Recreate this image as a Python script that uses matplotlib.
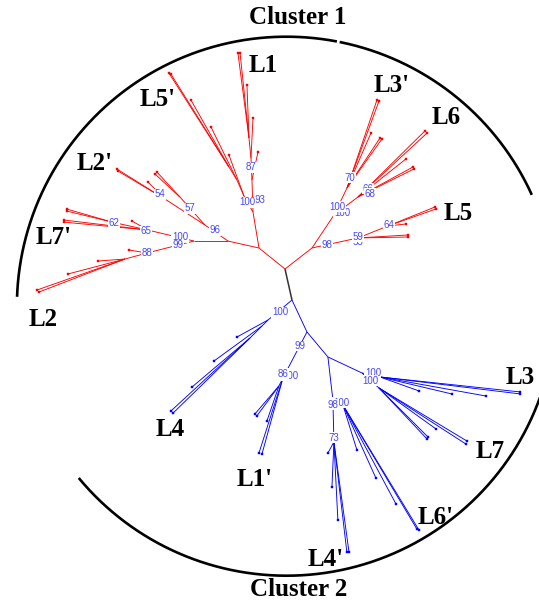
import numpy as np
import matplotlib
matplotlib.use("Agg")
import matplotlib.pyplot as plt
from matplotlib.collections import LineCollection

# Unrooted radiation tree: (node, parent, branch length, direction in degrees)
red_edges = [
    ("A", "root", 33.4, 141.1),
    ("N1", "A", 36.5, 99.5),
    ("L1n", "N1", 32.0, 91.8),
    ("L1_5", "L1n", 28.6, 77.9),
    ("L1m", "L1n", 22.0, 92.6),
    ("L1_4", "L1m", 40.0, 87.1),
    ("L1k", "L1m", 20.1, 95.7),
    ("L1_3", "L1k", 53.0, 92.2),
    ("L1_1", "L1k", 85.7, 97.4),
    ("L1_2", "L1k", 85.5, 96.0),
    ("L5n", "N1", 18.4, 119.4),
    ("L5p_4", "L5n", 43.7, 110.1),
    ("L5m", "L5n", 17.5, 113.6),
    ("L5p_3", "L5m", 59.0, 116.1),
    ("L5k", "L5m", 15.3, 121.6),
    ("L5p_2", "L5k", 77.0, 119.6),
    ("L5p_1", "L5k", 111.5, 122.6),
    ("L5p_0", "L5k", 109.6, 122.0),
    ("C96", "A", 31.8, 167.3),
    ("P2", "C96", 28.0, 145.2),
    ("n57", "P2", 37.5, 131.8),
    ("L2p_1", "n57", 34.0, 132.6),
    ("L2p_2", "n57", 34.0, 137.4),
    ("n54", "P2", 47.7, 147.0),
    ("L2p_3", "n54", 56.6, 148.0),
    ("L2p_4", "n54", 54.7, 149.2),
    ("L2p_5", "n54", 24.0, 135.0),
    ("C100", "C96", 34.0, 180.0),
    ("n65", "C100", 47.3, 166.6),
    ("L7p_5", "n65", 18.4, 150.6),
    ("n62", "n65", 36.9, 167.5),
    ("L7p_1", "n62", 46.8, 163.9),
    ("L7p_2", "n62", 46.3, 166.3),
    ("L7p_3", "n65", 84.6, 173.2),
    ("L7p_4", "n65", 84.4, 174.6),
    ("n88", "C100", 48.5, 194.3),
    ("L2_5", "n88", 18.2, 170.5),
    ("n88b", "n88", 22.8, 195.3),
    ("L2_4", "n88b", 27.1, 184.2),
    ("L2_3", "n88b", 58.9, 194.7),
    ("L2_1", "n88b", 93.3, 199.4),
    ("L2_2", "n88b", 92.1, 201.0),
    ("Ap", "root", 34.2, 37.9),
    ("n59", "Ap", 47.1, 12.3),
    ("L5_a", "n59", 50.1, 3.4),
    ("L5_b", "n59", 50.0, 1.1),
    ("n64", "n59", 32.3, 21.8),
    ("L5_c", "n64", 50.7, 22.0),
    ("L5_d", "n64", 50.9, 19.5),
    ("L5_e", "n64", 18.1, 6.3),
    ("n100r", "Ap", 39.7, 56.3),
    ("n70", "n100r", 30.0, 64.3),
    ("L3p_1", "n70", 93.0, 71.2),
    ("L3p_2", "n70", 92.7, 69.8),
    ("L3p_3", "n70", 60.0, 66.4),
    ("L3p_4", "n70", 59.9, 56.6),
    ("L3p_5", "n70", 60.2, 54.5),
    ("n68", "n100r", 30.0, 36.9),
    ("L6_1", "n68", 94.0, 44.6),
    ("L6_2", "n68", 94.1, 42.8),
    ("L6_3", "n68", 61.2, 38.4),
    ("L6_4", "n68", 62.6, 28.6),
    ("L6_5", "n68", 62.6, 26.6),
]

stem_edges = [("B0", "root", 31.8, -77.3)]

blue_edges = [
    ("BL4", "B0", 31.2, 219.8),
    ("L4_5", "BL4", 35.4, 208.7),
    ("n4a", "BL4", 8.5, 225.0),
    ("L4_4", "n4a", 59.4, 216.1),
    ("n4b", "n4a", 17.0, 225.0),
    ("L4_3", "n4b", 75.9, 220.2),
    ("L4_1", "n4b", 107.5, 224.3),
    ("L4_2", "n4b", 107.6, 222.7),
    ("B1", "B0", 35.3, -64.9),
    ("N86", "B1", 51.9, 242.4),
    ("n86a", "N86", 8.9, 243.4),
    ("L1p_1", "n86a", 36.9, 229.4),
    ("L1p_2", "n86a", 37.2, 233.7),
    ("L1p_3", "n86a", 37.0, 251.1),
    ("L1p_4", "N86", 78.7, 252.3),
    ("L1p_5", "N86", 78.8, 254.6),
    ("B2", "B1", 32.6, -50.0),
    ("B37", "B2", 37.6, -25.2),
    ("L3n", "B37", 18.4, -12.5),
    ("L3_1", "L3n", 41.4, -19.7),
    ("L3_2", "L3n", 74.0, -13.3),
    ("L3_3", "L3n", 107.7, -10.2),
    ("L3_4", "L3n", 140.8, -6.1),
    ("L3_5", "L3n", 141.0, -6.9),
    ("L7n", "B37", 22.7, -41.4),
    ("L7_1", "L7n", 102.7, -31.1),
    ("L7_2", "L7n", 103.5, -32.8),
    ("L7_3", "L7n", 70.2, -35.7),
    ("L7_4", "L7n", 69.3, -45.0),
    ("L7_5", "L7n", 70.0, -46.7),
    ("B98", "B2", 43.3, -83.4),
    ("L6n", "B98", 11.2, -26.6),
    ("L6p_1", "L6n", 47.1, -72.7),
    ("L6p_2", "L6n", 80.1, -65.7),
    ("L6p_3", "L6n", 112.3, -61.8),
    ("L6p_4", "L6n", 144.4, -59.2),
    ("L6p_5", "L6n", 146.3, -58.7),
    ("L4n", "B98", 42.0, -88.6),
    ("L4p_1", "L4n", 12.5, -118.6),
    ("L4p_2", "L4n", 45.0, -92.5),
    ("L4p_3", "L4n", 78.1, -87.1),
    ("L4p_4", "L4n", 110.8, -83.3),
    ("L4p_5", "L4n", 111.0, -82.2),
]

# Bootstrap support values attached to internal nodes (drawn in this order)
boot_nodes = ["N1", "N1", "L1n", "n57", "n54", "C96", "n62", "n65", "C100", "C100",
              "n88", "n70", "n100r", "n100r", "n68", "n68", "Ap", "n59", "n59", "n64",
              "B0", "B1", "N86", "N86", "B37", "B37", "B98", "B98", "L4n"]
boot_values = ["93", "100", "87", "57", "54", "96", "62", "65", "100", "99",
               "88", "70", "100", "100", "66", "68", "98", "55", "59", "64",
               "100", "99", "100", "86", "100", "100", "100", "98", "73"]
# label offsets from their node (same units as branch lengths)
boot_offsets = [(7, 12), (-6, 10), (-1, 13), (10, -11), (-5, 5), (-13, 11), (2, -1),
                (-2, -1), (-14, 4), (-16, -4), (0, 0), (3, 10), (8, 2), (3, 8),
                (10, 8), (12, 3), (15, 3), (0, -4), (0, 1), (1, 1), (-12, -12),
                (-7, -14), (7, 2), (0, 4), (11, 0), (8, -8), (8, -3), (0, -5), (0, 4)]

# Clade names and cluster names
clade_names = ["L1", "L5'", "L3'", "L6", "L2'", "L5", "L7'", "L2",
               "L4", "L1'", "L3", "L7", "L6'", "L4'"]
clade_pos = [(-22, 203), (-127, 169), (107, 184), (161, 152), (-190, 106), (173, 56),
             (-231, 32), (-242, -50), (-115, -161), (-30, -211), (235, -109),
             (205, -182), (151, -248), (41, -291)]
cluster_names = ["Cluster 1", "Cluster 2"]
cluster_pos = [(13, 252), (14, -321)]
# cluster arcs (degrees)
circle_center = (1.4, -37.2)
circle_radius = 269.5
arc_spans = [(24.4, 78.6), (79.2, 178.0), (219.6, 345.0)]


def layout(edge_lists):
    pos = {"root": (0.0, 0.0)}
    pending = [e for lst in edge_lists for e in lst]
    while pending:
        rest = []
        for node, parent, length, ang in pending:
            if parent in pos:
                px, py = pos[parent]
                a = np.deg2rad(ang)
                pos[node] = (px + length * np.cos(a), py + length * np.sin(a))
            else:
                rest.append((node, parent, length, ang))
        pending = rest
    return pos


pos = layout([red_edges, stem_edges, blue_edges])

fig = plt.figure(figsize=(5.39, 6.05), dpi=100)
ax = fig.add_axes([0, 0, 1, 1])
ax.set_xlim(-285, 254)
ax.set_ylim(-336, 269)
ax.axis("off")


def draw(edges, color, lw=0.65, tips=True):
    segs = [[pos[p], pos[n]] for n, p, _, _ in edges]
    ax.add_collection(LineCollection(segs, colors=color, linewidths=lw, zorder=2))
    if tips:
        parents = {p for _, p, _, _ in edges}
        tp = np.array([pos[n] for n, _, _, _ in edges if n not in parents])
        ax.plot(tp[:, 0], tp[:, 1], "s", ms=1.5, color=color, mec=color, mew=0.3,
                zorder=3)


draw(red_edges, "#ff0000")
draw(blue_edges, "#0000ff")
draw(stem_edges, "#333333", lw=1.1, tips=False)

for node, val, (dx, dy) in zip(boot_nodes, boot_values, boot_offsets):
    x, y = pos[node]
    ax.text(x + dx, y + dy, val, fontsize=7, color="#4646ff",
            family="Liberation Sans", ha="center", va="center", zorder=4,
            bbox=dict(boxstyle="square,pad=0.05", fc="white", ec="none"))

cx, cy = circle_center
for a0, a1 in arc_spans:
    t = np.deg2rad(np.linspace(a0, a1, 300))
    ax.plot(cx + circle_radius * np.cos(t), cy + circle_radius * np.sin(t),
            color="black", lw=1.9, solid_capstyle="butt", zorder=1)

for name, (x, y) in zip(clade_names, clade_pos):
    ax.text(x, y, name, fontsize=18, fontweight="bold", family="Liberation Serif",
            ha="center", va="center", color="black", zorder=5)

for name, (x, y) in zip(cluster_names, cluster_pos):
    ax.text(x, y, name, fontsize=18, fontweight="bold", family="Liberation Serif",
            ha="center", va="center", color="black", zorder=5)

fig.savefig("out.png", dpi=100, facecolor="white")
